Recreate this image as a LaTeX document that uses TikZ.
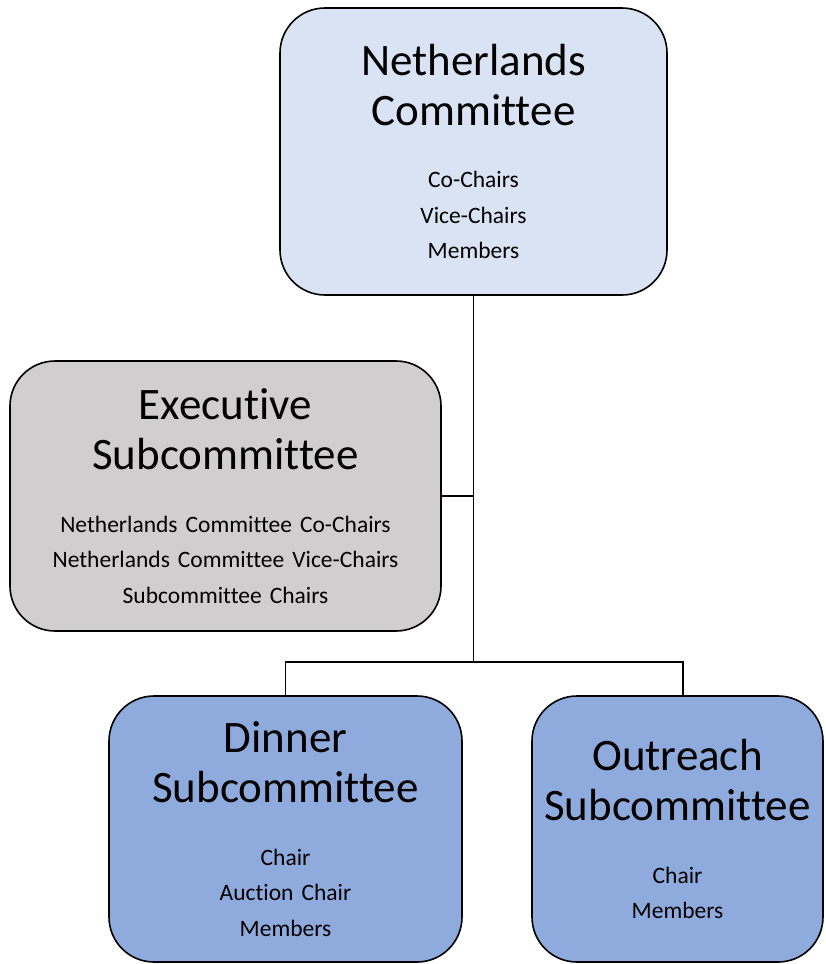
\documentclass[tikz,border=0pt]{standalone}
\usepackage{fontspec}
\setmainfont[Ligatures={NoCommon}]{Carlito}
\usetikzlibrary{positioning}

\definecolor{topblue}{HTML}{DAE3F3}
\definecolor{execgray}{HTML}{D0CECE}
\definecolor{subblue}{HTML}{8FAADC}

\newcommand{\boxtitle}[1]{{\fontsize{45}{50}\selectfont #1\par}\vspace{27pt}}
\newcommand{\boxroles}[1]{{\fontsize{23.5}{35.5}\selectfont\spaceskip=8pt #1\par}}

\begin{document}
\begin{tikzpicture}[
  x=1pt, y=-1pt,
  orgbox/.style={draw=black, line width=1.6pt, rounded corners=45pt, align=center, inner xsep=0pt, inner ysep=0pt},
  link/.style={line width=1.6pt}
]
\useasboundingbox (0,0) rectangle (825,964);

\node[orgbox, fill=topblue, text width=387pt, minimum height=287pt] (netc) at (473.5,151.5)
  {\boxtitle{Netherlands\\Committee}\boxroles{Co-Chairs\\Vice-Chairs\\Members}};
\node[orgbox, fill=execgray, text width=431pt, minimum height=270pt] (exec) at (225.5,496)
  {\boxtitle{Executive\\Subcommittee}\boxroles{Netherlands Committee Co-Chairs\\Netherlands Committee Vice-Chairs\\Subcommittee Chairs}};
\node[orgbox, fill=subblue, text width=353pt, minimum height=266pt] (dinner) at (285.5,829)
  {\boxtitle{Dinner\\Subcommittee}\boxroles{Chair\\Auction Chair\\Members}};
\node[orgbox, fill=subblue, text width=291pt, minimum height=266pt] (outreach) at (677.5,829)
  {\boxtitle{Outreach\\Subcommittee}\boxroles{Chair\\Members}};

\coordinate (junc) at (473.5,662);
\coordinate (outtop) at ([xshift=5.5pt]outreach.north);

\draw[link] (netc.south) -- (junc);
\draw[link] (exec.east) -- (exec.east -| junc);
\draw[link] (dinner.north) |- (junc);
\draw[link] (junc) -| (outtop);
\end{tikzpicture}
\end{document}
